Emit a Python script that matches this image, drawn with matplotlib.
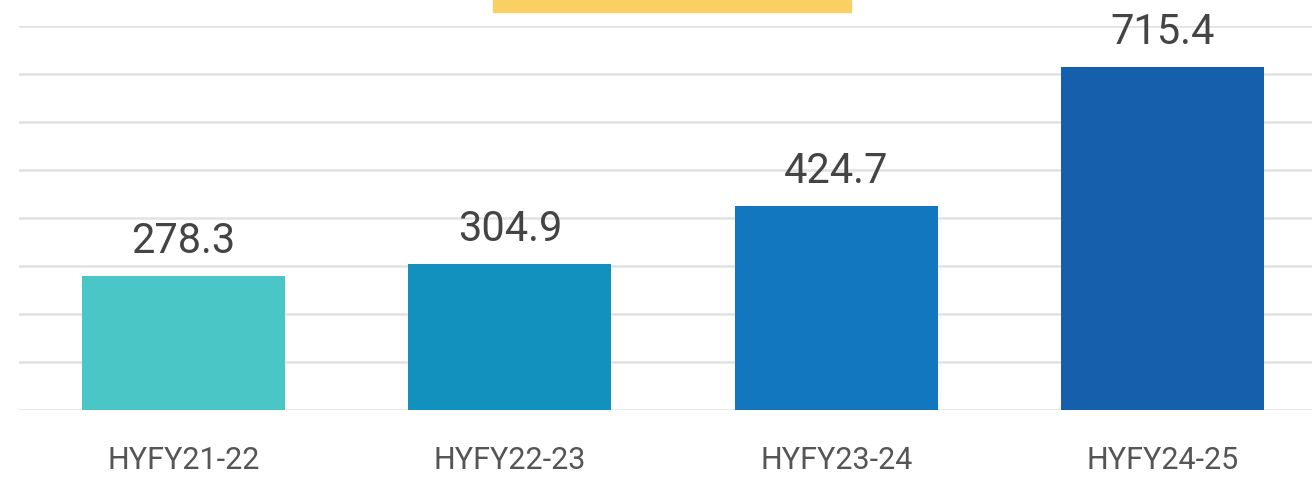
import matplotlib
matplotlib.use("Agg")
import matplotlib.pyplot as plt
from matplotlib.patches import Rectangle

categories = ["HYFY21-22", "HYFY22-23", "HYFY23-24", "HYFY24-25"]
values = [278.3, 304.9, 424.7, 715.4]
value_labels = ["278.3", "304.9", "424.7", "715.4"]
colors = ["#4BC6C6", "#1391BE", "#1277BF", "#165FAD"]

plt.rcParams['font.family'] = ['Roboto', 'DejaVu Sans']

fig = plt.figure(figsize=(13.12, 4.79), dpi=100)
W, H = 1312, 479
ax = fig.add_axes([19 / W, 1 - 410 / H, 1 - 19 / W, (410 - 26) / H])

x = list(range(len(categories)))
ax.bar(x, values, width=0.623, color=colors, zorder=3)
for xi, v, lab in zip(x, values, value_labels):
    ax.annotate(lab, (xi, v), xytext=(0, 14), textcoords="offset pixels",
                ha="center", va="bottom", fontsize=30, color="#444444", zorder=4)

ax.set_xlim(-0.504, 3.458)
ax.set_ylim(0, 800)
ax.set_yticks(range(0, 801, 100))
ax.yaxis.grid(True, color="#E2E2E2", linewidth=1.8, zorder=0)
ax.tick_params(axis="y", length=0, labelleft=False)
ax.set_xticks(x)
ax.set_xticklabels(categories, fontsize=22, color="#555555")
ax.tick_params(axis="x", length=0, pad=26)
for s in ax.spines.values():
    s.set_visible(False)

fig.patches.append(Rectangle((493 / W, 1 - 12 / H), (851 - 493) / W, 12 / H,
                             transform=fig.transFigure, color="#FBD063", zorder=5))

fig.savefig("out.png", dpi=100)
